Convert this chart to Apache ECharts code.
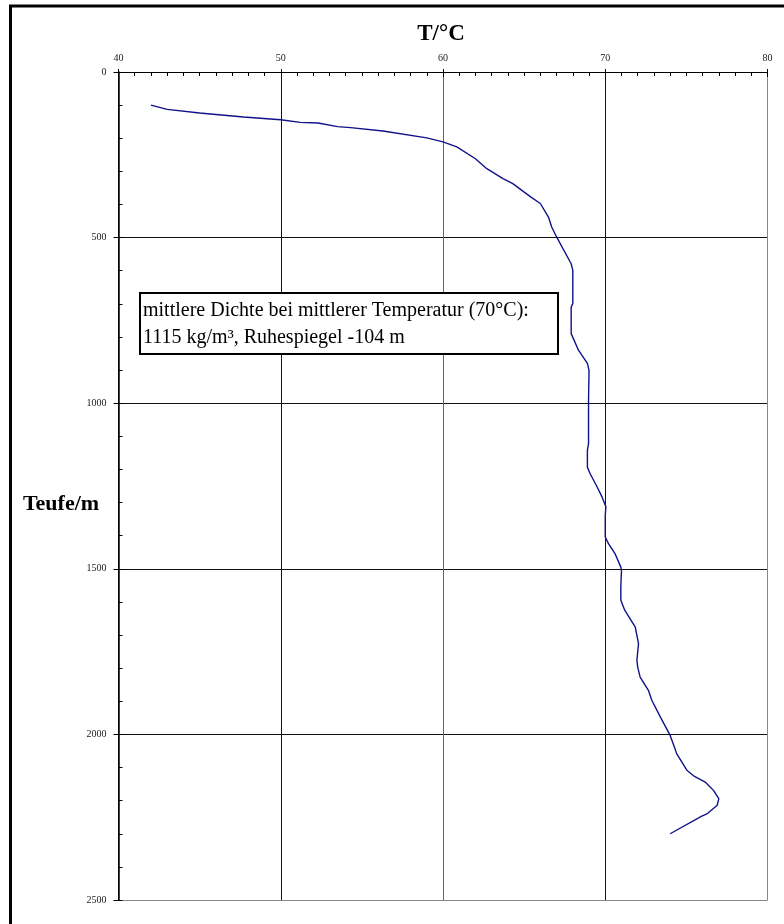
<!DOCTYPE html>
<html>
<head>
<meta charset="utf-8">
<script src="https://cdn.jsdelivr.net/npm/echarts@6/dist/echarts.min.js"></script>
<style>
html,body{margin:0;padding:0;background:#fff;}
#c{width:784px;height:924px;}
</style>
</head>
<body>
<div id="c"></div>
<script>
// Temperature profile: depth (m) and temperature (°C)
const depths = [100,113,124,136,144,152,154,165,168,178,199,211,226,262,292,322,337,377,397,438,468,498,579,599,699,710,790,840,880,901,991,1122,1142,1193,1213,1253,1283,1313,1338,1404,1424,1454,1495,1505,1555,1595,1625,1676,1726,1776,1797,1827,1867,1897,1948,2003,2043,2058,2108,2127,2144,2169,2194,2214,2239,2247,2300];
const temps = [42.0,43.0,45.0,47.7,50.0,51.2,52.3,53.5,54.3,56.3,59.0,60.0,60.85,62.0,62.7,63.7,64.3,65.4,66.0,66.5,66.7,67.0,67.9,68.0,68.0,67.9,67.9,68.35,68.9,69.0,68.97,68.97,68.9,68.9,69.07,69.5,69.8,70.04,70.0,70.0,70.2,70.6,70.96,71.0,70.96,70.96,71.2,71.85,72.05,71.95,72.0,72.15,72.66,72.87,73.4,74.0,74.3,74.4,75.03,75.5,76.16,76.67,77.0,76.9,76.3,75.95,74.0];
const xTicks = {min: 40, max: 80, step: 10};
const yTicks = {min: 0, max: 2500, step: 500};
const xTitle = 'T/°C';
const yTitle = 'Teufe/m';
const noteLines = ['mittlere Dichte bei mittlerer Temperatur (70°C):', '1115 kg/m³, Ruhespiegel -104 m'];

const serif = '"Liberation Serif", "Times New Roman", serif';
const seriesData = temps.map((t, i) => [t, depths[i]]);

const chart = echarts.init(document.getElementById('c'), null, {renderer: 'canvas'});
const lineCol = '#000';
chart.setOption({
  animation: false,
  backgroundColor: '#fff',
  grid: {left: 118.5, right: 16.5, top: 72, bottom: 24, outerBoundsMode: 'none'},
  xAxis: [{
    type: 'value', position: 'top', min: xTicks.min, max: xTicks.max, interval: xTicks.step,
    axisLine: {show: true, lineStyle: {color: lineCol, width: 1}},
    axisTick: {show: true, inside: true, length: 5, lineStyle: {color: lineCol}},
    minorTick: {show: true, splitNumber: 10, length: 4, lineStyle: {color: lineCol}},
    axisLabel: {show: true, margin: 9, fontFamily: serif, fontSize: 10, color: '#222', formatter: v => String(v)},
    splitLine: {show: true, lineStyle: {color: ['#111', '#111', '#666', '#111', '#888'], width: 1}}
  }, {
    type: 'value', position: 'top', min: xTicks.min, max: xTicks.max, interval: xTicks.step,
    axisLine: {show: false},
    axisTick: {show: true, inside: false, length: 3, lineStyle: {color: lineCol}},
    axisLabel: {show: false}, splitLine: {show: false}
  }],
  yAxis: [{
    type: 'value', position: 'left', inverse: true, min: yTicks.min, max: yTicks.max, interval: yTicks.step,
    axisLine: {show: true, lineStyle: {color: lineCol, width: 1.5}},
    axisTick: {show: true, inside: true, length: 4, lineStyle: {color: lineCol}},
    minorTick: {show: true, splitNumber: 5, length: 4, lineStyle: {color: lineCol}},
    axisLabel: {show: true, margin: 12, fontFamily: serif, fontSize: 10, color: '#222', formatter: v => String(v)},
    splitLine: {show: true, lineStyle: {color: ['#111', '#111', '#111', '#111', '#111', '#888'], width: 1}}
  }, {
    type: 'value', position: 'left', inverse: true, min: yTicks.min, max: yTicks.max, interval: yTicks.step,
    axisLine: {show: false},
    axisTick: {show: true, inside: false, length: 5, lineStyle: {color: lineCol}},
    axisLabel: {show: false}, splitLine: {show: false}
  }],
  series: [{
    type: 'line', xAxisIndex: 0, yAxisIndex: 0, data: seriesData,
    showSymbol: false, smooth: false, z: 5,
    lineStyle: {color: '#11118a', width: 1.4}
  }],
  graphic: [
    {type: 'rect', shape: {x: 10.5, y: 6, width: 800, height: 960}, style: {fill: 'none', stroke: '#000', lineWidth: 3}, silent: true, z: 100},
    {type: 'text', x: 441, y: 34.5, style: {text: xTitle, font: 'bold 23px ' + serif, fill: '#000', align: 'center', verticalAlign: 'middle'}, z: 100},
    {type: 'text', x: 61, y: 504, style: {text: yTitle, font: 'bold 22px ' + serif, fill: '#000', align: 'center', verticalAlign: 'middle'}, z: 100},
    {type: 'rect', shape: {x: 140, y: 293, width: 418, height: 61}, style: {fill: '#fff', stroke: '#000', lineWidth: 2}, z: 100},
    {type: 'text', x: 143, y: 311, style: {text: noteLines[0], font: '20px ' + serif, fill: '#000', align: 'left', verticalAlign: 'middle'}, z: 101},
    {type: 'text', x: 143, y: 338, style: {text: noteLines[1], font: '20px ' + serif, fill: '#000', align: 'left', verticalAlign: 'middle'}, z: 101}
  ]
});
</script>
</body>
</html>
